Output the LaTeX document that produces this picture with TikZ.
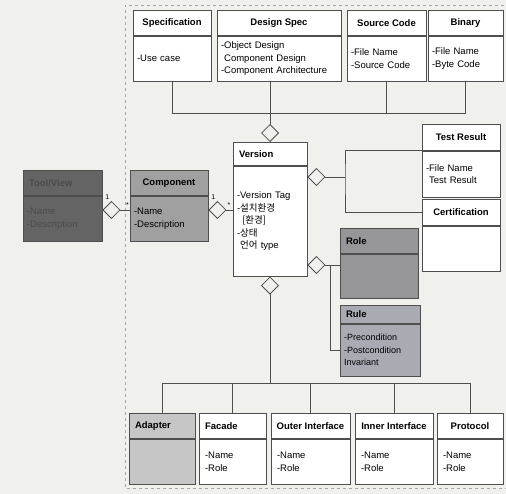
\documentclass[tikz,border=0pt]{standalone}
\usepackage{fontspec}
\setmainfont{Liberation Sans}
\newfontfamily\kor{Noto Sans CJK KR}
\usetikzlibrary{positioning,arrows.meta}
\definecolor{Ink}{RGB}{78,78,78}
\definecolor{Paper}{RGB}{240,240,237}
\definecolor{Shade}{RGB}{100,100,100}
\definecolor{Stone}{RGB}{160,160,160}
\definecolor{Slate}{RGB}{150,150,152}
\definecolor{Mist}{RGB}{168,171,178}
\definecolor{Ash}{RGB}{198,198,198}

\begin{document}
\begin{tikzpicture}[x=1pt,y=-1pt,
  head/.style={draw=Ink,fill=white,line width=.8pt,minimum height=25pt,inner sep=2pt,anchor=north,font=\fontsize{9.5}{11}\selectfont\bfseries},
  lhead/.style={head,align=left,inner xsep=6pt},
  body/.style={draw=Ink,fill=white,line width=.8pt,inner xsep=4pt,inner ysep=3pt,align=left,font=\fontsize{9.5}{12.5}\selectfont},
  link/.style={draw=Ink,line width=.8pt},
  agg/.style={link,{Diamond[fill=Paper,length=18pt,width=18pt]}-},
  mult/.style={font=\scriptsize,inner sep=1pt},
  frame/.style={draw=gray!70,dashed,line width=.8pt}]
\useasboundingbox (0,0) rectangle (506,494);
\fill[Paper] (0,0) rectangle (506,494);
\draw[frame] (510,5) -| (125,488) -- (510,488);

\node[head,minimum width=78pt] (spec) at (172,10) {Specification};
\node[body,below=0pt of spec,text width=70pt,minimum height=45pt] (specb) {-Use case};
\node[head,minimum width=124pt] (dsn) at (279,10) {Design Spec};
\node[body,below=0pt of dsn,text width=116pt,minimum height=45pt] (dsnb) {-Object Design\\\hphantom{-}Component Design\\-Component Architecture};
\node[head,minimum width=79pt] (src) at (386.5,10) {Source Code};
\node[body,below=0pt of src,text width=71pt,minimum height=45pt] (srcb) {-File Name\\-Source Code};
\node[head,minimum width=75pt] (bin) at (465.5,10) {Binary};
\node[body,below=0pt of bin,text width=67pt,minimum height=45pt] (binb) {-File Name\\-Byte Code};

\node[lhead,fill=Shade,text=black!70,text width=67pt] (tool) at (62.5,170) {Tool/View};
\node[body,fill=Shade,text=black!70,below=0pt of tool,text width=71pt,minimum height=45pt] (toolb) {-Name\\-Description};
\node[head,fill=Stone,minimum width=78pt] (comp) at (169,170) {Component};
\node[body,fill=Stone,below=0pt of comp,text width=70pt,minimum height=45pt] (compb) {-Name\\-Description};

\node[lhead,minimum height=23pt,text width=62pt] (ver) at (270,142) {Version};
\node[body,below=0pt of ver,text width=66pt,minimum height=110pt] (verb) {-Version Tag\\-{\kor 설치환경}\\\hphantom{--}{\kor [환경]}\\-{\kor 상태}\\\hphantom{-}{\kor 언어} type};

\node[head,minimum width=78pt,minimum height=26pt] (tr) at (461,124) {Test Result};
\node[body,below=0pt of tr,text width=70pt,minimum height=46pt] (trb) {-File Name\\\hphantom{-}Test Result};
\node[head,minimum width=78pt,minimum height=26pt] (cert) at (461,199) {Certification};
\node[body,below=0pt of cert,text width=70pt,minimum height=45pt] (certb) {};

\node[lhead,fill=Slate,text width=66pt] (role) at (379,228) {Role};
\node[body,fill=Slate,below=0pt of role,text width=70pt,minimum height=44pt] (roleb) {};
\node[lhead,fill=Mist,minimum height=18pt,text width=68pt] (rule) at (380,305) {Rule};
\node[body,fill=Mist,below=0pt of rule,text width=72pt,minimum height=52pt,font=\fontsize{9}{12.5}\selectfont] (ruleb) {-Precondition\\-Postcondition\\Invariant};

\node[lhead,fill=Ash,text width=54pt] (adp) at (162,413) {Adapter};
\node[body,fill=Ash,below=0pt of adp,text width=58pt,minimum height=45pt] (adpb) {};
\node[lhead,text width=55pt] (fac) at (232.5,413) {Facade};
\node[body,below=0pt of fac,text width=55pt,inner xsep=6pt,minimum height=45pt] (facb) {-Name\\-Role};
\node[head,minimum width=79pt] (out) at (310.5,413) {Outer Interface};
\node[body,below=0pt of out,text width=67pt,inner xsep=6pt,minimum height=45pt] (outb) {-Name\\-Role};
\node[head,minimum width=78pt] (inn) at (394,413) {Inner Interface};
\node[body,below=0pt of inn,text width=66pt,inner xsep=6pt,minimum height=45pt] (innb) {-Name\\-Role};
\node[head,minimum width=66pt] (prt) at (470,413) {Protocol};
\node[body,below=0pt of prt,text width=54pt,inner xsep=6pt,minimum height=45pt] (prtb) {-Name\\-Role};

\coordinate (topbus) at (270,113);
\coordinate (lvl) at (0,210);
\coordinate (vj) at (345,177);
\coordinate (rj) at (330,265);
\coordinate (botbus) at (270,383);

\draw[link] (specb.south) |- (binb.south |- topbus) -- (binb.south);
\draw[link] (srcb.south) -- (srcb.south |- topbus);
\draw[agg] (ver.north) -- (ver.north |- dsnb.south);

\draw[agg] (toolb.east |- lvl) -- node[mult,pos=.18,above=9pt]{1} node[mult,pos=.92,above=1pt]{*} (compb.west |- lvl);
\draw[agg] (compb.east |- lvl) -- node[mult,pos=.2,above=9pt]{1} node[mult,pos=.85,above=1pt]{*} (verb.west |- lvl);

\draw[agg] (ver.east |- vj) -- (vj);
\draw[link] (trb.north west) -| (vj) |- (cert.west);
\draw[agg] (ver.east |- rj) -- (roleb.west |- rj);
\draw[link] (rj) |- (ruleb.west);

\draw[agg] (verb.south) -- (botbus);
\draw[link] (adp.north) |- (prt.north |- botbus) -- (prt.north);
\draw[link] (fac.north) -- (fac.north |- botbus); \draw[link] (out.north) -- (out.north |- botbus); \draw[link] (inn.north) -- (inn.north |- botbus);
\end{tikzpicture}
\end{document}
